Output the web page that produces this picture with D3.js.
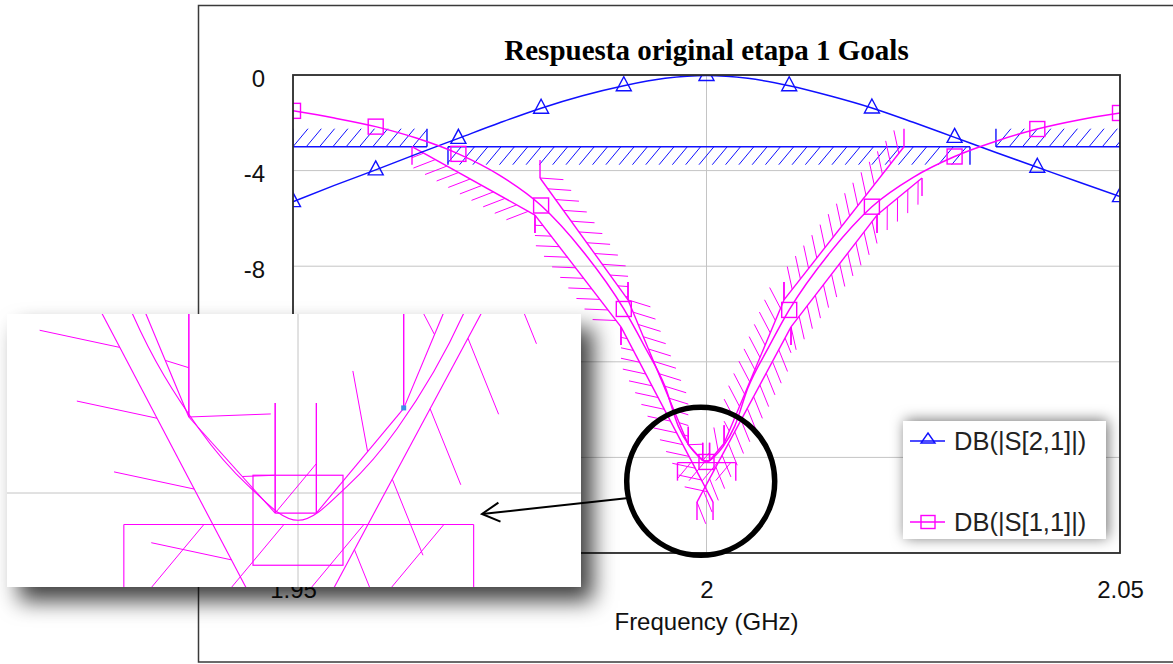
<!DOCTYPE html>
<html><head><meta charset="utf-8">
<script src="https://cdn.jsdelivr.net/npm/d3@7"></script>
<style>
html,body{margin:0;padding:0;background:#fff;}
svg{display:block;}
</style></head><body>
<svg id="chart" width="1173" height="664"></svg>
<script>
// ---------------- data ----------------
const chartTitle = "Respuesta original etapa 1 Goals";
const xLabel = "Frequency (GHz)";
const xTicks = [1.95, 2, 2.05];
const xTickLabels = ["1.95", "2", "2.05"];
const yTicks = [0, -4, -8, -12, -16, -20];
const yTickLabels = ["0", "-4", "-8", "-12", "-16", "-20"];
const seriesNames = ["DB(|S[2,1]|)", "DB(|S[1,1]|)"];

const s21Freq = [1.950,1.955,1.960,1.965,1.970,1.975,1.980,1.985,1.990,1.995,2.000,2.005,2.010,2.015,2.020,2.025,2.030,2.035,2.040,2.045,2.050];
const s21Db   = [-5.30,-4.62,-3.97,-3.30,-2.65,-2.00,-1.39,-0.87,-0.45,-0.14,-0.02,-0.14,-0.45,-0.88,-1.38,-1.98,-2.61,-3.24,-3.86,-4.48,-5.09];

const s11Freq = [1.950,1.955,1.960,1.965,1.970,1.975,1.980,1.985,1.990,1.9925,1.995,1.9966,1.998,1.999,2.000,2.001,2.002,2.0034,2.005,2.0075,2.010,2.015,2.020,2.025,2.030,2.035,2.040,2.045,2.050];
const s11Db   = [-1.50,-1.80,-2.16,-2.65,-3.30,-4.20,-5.46,-7.35,-9.79,-11.35,-13.05,-14.70,-15.55,-15.95,-16.19,-15.95,-15.55,-14.70,-13.10,-11.40,-9.83,-7.40,-5.51,-4.28,-3.41,-2.77,-2.26,-1.88,-1.59];

// goals: [fStart, fEnd, dBStart, dBEnd, hatched side]
const s21Goals = [
  [1.95000, 1.96620, -3.0, -3.0, "above"],
  [1.96874, 2.03186, -3.0, -3.0, "below"],
  [2.03500, 2.05000, -3.0, -3.0, "above"]
];
const s11Goals = [
  [1.96439, 1.97926, -3.00, -5.86, "below"],
  [1.97926, 1.98966, -5.86, -10.54, "below"],
  [1.98966, 2.00079, -10.54, -17.87, "below"],
  [1.97987, 1.99051, -4.31, -9.41, "above"],
  [1.99051, 1.99780, -9.41, -15.47, "above"],
  [1.99780, 1.99954, -15.47, -16.14, "above"],
  [1.99954, 2.00037, -16.14, -16.14, "above"],
  [2.00037, 2.00213, -16.14, -15.41, "above"],
  [2.00213, 2.00937, -15.41, -9.41, "above"],
  [2.00937, 2.02388, -9.41, -3.00, "above"],
  [2.02062, 2.02606, -5.86, -4.31, "below"],
  [2.01022, 2.02062, -10.54, -5.86, "below"],
  [1.99885, 2.01022, -17.87, -10.54, "below"],
  [1.99649, 2.00354, -16.22, -16.22, "below"]
];
const zoomCenter = [2.0, -16];      // data point shown at the inset's reference spot
const circleCenter = [1.9993, -17.0];

// ---------------- layout ----------------
const plot = {left: 293, top: 75, right: 1120, bottom: 553};
const inset = {x: 7, y: 314, w: 574, h: 273, refX: 291, refY: 179, k: 6};
const legendBox = {x: 903, y: 421, w: 203, h: 118};
const BLUE = "#1010ff", MAG = "#ff00ff";
const SANS = "'Liberation Sans', Arial, sans-serif";

const svg = d3.select("#chart");
const x = d3.scaleLinear().domain([1.95, 2.05]).range([plot.left, plot.right]);
const y = d3.scaleLinear().domain([-20, 0]).range([plot.bottom, plot.top]);

const cx0 = x(zoomCenter[0]), cy0 = y(zoomCenter[1]);
const xi = d3.scaleLinear().domain(x.domain())
  .range(x.range().map(v => inset.x + inset.refX + inset.k * (v - cx0)));
const yi = d3.scaleLinear().domain(y.domain())
  .range(y.range().map(v => inset.y + inset.refY + inset.k * (v - cy0)));

const defs = svg.append("defs");
defs.append("clipPath").attr("id", "plotClip").append("rect")
  .attr("x", plot.left).attr("y", plot.top)
  .attr("width", plot.right - plot.left).attr("height", plot.bottom - plot.top);
defs.append("clipPath").attr("id", "insetClip").append("rect")
  .attr("x", inset.x).attr("y", inset.y).attr("width", inset.w).attr("height", inset.h);
const fi = defs.append("filter").attr("id", "insetShadow")
  .attr("x", "-10%").attr("y", "-10%").attr("width", "130%").attr("height", "140%");
fi.append("feDropShadow").attr("dx", 12).attr("dy", 14).attr("stdDeviation", 11)
  .attr("flood-color", "#000").attr("flood-opacity", 0.75);
const fl = defs.append("filter").attr("id", "legShadow")
  .attr("x", "-20%").attr("y", "-30%").attr("width", "140%").attr("height", "160%");
fl.append("feDropShadow").attr("dx", 2).attr("dy", -1).attr("stdDeviation", 7)
  .attr("flood-color", "#000").attr("flood-opacity", 0.55);

svg.append("rect").attr("width", 1173).attr("height", 664).attr("fill", "#fff");
// outer frame
svg.append("rect").attr("x", 198.5).attr("y", 5.5).attr("width", 990).attr("height", 656.5)
  .attr("fill", "none").attr("stroke", "#3a3a3a").attr("stroke-width", 1.5);

// ---------------- scene drawing (shared by main plot and inset) ----------------
function drawGoal(g, sx, sy, goal, color, st) {
  const [f1, f2, d1, d2, side] = goal;
  const p1 = [sx(f1), sy(d1)], p2 = [sx(f2), sy(d2)];
  const dir = side === "above" ? -1 : 1;
  g.append("line").attr("x1", p1[0]).attr("y1", p1[1]).attr("x2", p2[0]).attr("y2", p2[1])
    .attr("stroke", color).attr("stroke-width", st.goalW);
  [p1, p2].forEach(p => g.append("line").attr("x1", p[0]).attr("y1", p[1])
    .attr("x2", p[0]).attr("y2", p[1] + dir * st.cap)
    .attr("stroke", color).attr("stroke-width", st.goalW));
  const th = Math.atan2(p2[1] - p1[1], p2[0] - p1[0]);
  const bx = -dir * 15 * st.hs, by = dir * 18 * st.hs;
  const vx = bx * Math.cos(th) - by * Math.sin(th);
  const vy = bx * Math.sin(th) + by * Math.cos(th);
  const L = Math.hypot(p2[0] - p1[0], p2[1] - p1[1]);
  const ux = (p2[0] - p1[0]) / L, uy = (p2[1] - p1[1]) / L;
  const xmin = Math.min(p1[0], p2[0]), xmax = Math.max(p1[0], p2[0]);
  for (let d = 0; d <= L + 0.01; d += st.sp) {
    const P = [p1[0] + ux * d, p1[1] + uy * d];
    let t0 = 0, t1 = 1;
    if (Math.abs(vx) > 1e-9) {
      const ta = (xmin - P[0]) / vx, tb = (xmax - P[0]) / vx;
      t0 = Math.max(t0, Math.min(ta, tb)); t1 = Math.min(t1, Math.max(ta, tb));
    }
    if (t1 - t0 > 0.01) {
      g.append("line").attr("x1", P[0] + vx * t0).attr("y1", P[1] + vy * t0)
        .attr("x2", P[0] + vx * t1).attr("y2", P[1] + vy * t1)
        .attr("stroke", color).attr("stroke-width", st.hatchW);
    }
  }
}

function isMarker(f) { return Math.abs(f * 100 - Math.round(f * 100)) < 1e-6; }

function drawScene(g, sx, sy, st) {
  const [xa, xb] = [sx(1.95), sx(2.05)], [ya, yb] = [sy(0), sy(-20)];
  // grid
  yTicks.forEach(t => g.append("line").attr("x1", xa).attr("x2", xb)
    .attr("y1", sy(t)).attr("y2", sy(t)).attr("stroke", "#c4c4c4").attr("stroke-width", 1));
  xTicks.forEach(t => g.append("line").attr("y1", ya).attr("y2", yb)
    .attr("x1", sx(t)).attr("x2", sx(t)).attr("stroke", "#c4c4c4").attr("stroke-width", 1));
  // goals
  s21Goals.forEach(gl => drawGoal(g, sx, sy, gl, BLUE, st));
  s11Goals.forEach(gl => drawGoal(g, sx, sy, gl, MAG, st));
  // curves
  const line = d3.line().x(d => sx(d[0])).y(d => sy(d[1])).curve(d3.curveMonotoneX);
  const s21 = s21Freq.map((f, i) => [f, s21Db[i]]);
  const s11 = s11Freq.map((f, i) => [f, s11Db[i]]);
  g.append("path").attr("d", line(s21)).attr("fill", "none").attr("stroke", BLUE).attr("stroke-width", st.curveW);
  g.append("path").attr("d", line(s11)).attr("fill", "none").attr("stroke", MAG).attr("stroke-width", st.curveW);
  // markers
  const m = st.mk;
  s21.filter(d => isMarker(d[0])).forEach(d => {
    g.append("path").attr("transform", `translate(${sx(d[0])},${sy(d[1])}) scale(${m})`)
      .attr("d", "M0,-9L7.5,5L-7.5,5Z").attr("fill", "none").attr("stroke", BLUE)
      .attr("stroke-width", st.markW / m);
  });
  s11.filter(d => isMarker(d[0])).forEach(d => {
    g.append("rect").attr("x", sx(d[0]) - 7.5 * m).attr("y", sy(d[1]) - 7.5 * m)
      .attr("width", 15 * m).attr("height", 15 * m).attr("fill", "none")
      .attr("stroke", MAG).attr("stroke-width", st.markW);
  });
}

// ---------------- main plot ----------------
const main = svg.append("g").attr("clip-path", "url(#plotClip)");
drawScene(main, x, y, {sp: 13.3, hs: 1, cap: 18, goalW: 1.4, hatchW: 1, curveW: 1.5, mk: 1, markW: 1.4});

svg.append("rect").attr("x", plot.left).attr("y", plot.top)
  .attr("width", plot.right - plot.left).attr("height", plot.bottom - plot.top)
  .attr("fill", "none").attr("stroke", "#2b2b2b").attr("stroke-width", 1.8);

// axes
const xAxis = svg.append("g").attr("transform", `translate(0,${plot.bottom})`)
  .call(d3.axisBottom(x).tickValues(xTicks).tickFormat((d, i) => xTickLabels[i]).tickSize(0).tickPadding(28));
xAxis.select(".domain").remove();
xAxis.selectAll("text").attr("font-size", 24).attr("font-family", SANS).attr("fill", "#111");
const yAxis = svg.append("g").attr("transform", `translate(${plot.left},0)`)
  .call(d3.axisLeft(y).tickValues(yTicks).tickFormat((d, i) => yTickLabels[i]).tickSize(0).tickPadding(28));
yAxis.select(".domain").remove();
yAxis.selectAll("text").attr("font-size", 24).attr("font-family", SANS).attr("fill", "#111").attr("dy", "0.46em");

svg.append("text").attr("x", (plot.left + plot.right) / 2).attr("y", 630)
  .attr("text-anchor", "middle").attr("font-size", 24).attr("font-family", SANS).attr("fill", "#111").text(xLabel);
svg.append("text").attr("x", (plot.left + plot.right) / 2).attr("y", 60)
  .attr("text-anchor", "middle").attr("font-size", 29).attr("font-weight", "bold")
  .attr("font-family", "'Liberation Serif', 'Times New Roman', serif").attr("fill", "#000").text(chartTitle);

// legend
const lg = svg.append("g");
lg.append("rect").attr("x", legendBox.x).attr("y", legendBox.y).attr("width", legendBox.w).attr("height", legendBox.h)
  .attr("fill", "#fff").attr("filter", "url(#legShadow)");
const legRows = [legendBox.y + 20, legendBox.y + 101];
[BLUE, MAG].forEach((c, i) => {
  const ly = legRows[i], lx = legendBox.x + 7;
  lg.append("line").attr("x1", lx).attr("x2", lx + 35).attr("y1", ly).attr("y2", ly)
    .attr("stroke", c).attr("stroke-width", 1.5);
  if (i === 0) {
    lg.append("path").attr("transform", `translate(${lx + 18},${ly})`)
      .attr("d", "M0,-8L7,2L-7,2Z").attr("fill", "none").attr("stroke", c).attr("stroke-width", 1.4);
  } else {
    lg.append("rect").attr("x", lx + 11).attr("y", ly - 6.5).attr("width", 14).attr("height", 13)
      .attr("fill", "none").attr("stroke", c).attr("stroke-width", 1.4);
  }
  lg.append("text").attr("x", lx + 44).attr("y", ly + 9).attr("font-size", 25.5)
    .attr("font-family", SANS).attr("fill", "#222").text(seriesNames[i]);
});

// ---------------- inset (magnified view of the same data) ----------------
svg.append("rect").attr("x", inset.x).attr("y", inset.y).attr("width", inset.w).attr("height", inset.h)
  .attr("fill", "#fff").attr("filter", "url(#insetShadow)");
const ins = svg.append("g").attr("clip-path", "url(#insetClip)");
drawScene(ins, xi, yi, {sp: 80, hs: 3.5, cap: 110, goalW: 1.1, hatchW: 1, curveW: 1.1, mk: inset.k, markW: 1.2});
// small selection handle
const hg = s11Goals[7];
ins.append("rect").attr("x", xi(hg[1]) - 2.5).attr("y", yi(hg[3]) - 3).attr("width", 5).attr("height", 5)
  .attr("fill", "#3a8ee6");

// ---------------- annotation: circle + arrow ----------------
const ccx = x(circleCenter[0]), ccy = y(circleCenter[1]), cr = 74;
svg.append("circle").attr("cx", ccx).attr("cy", ccy).attr("r", cr)
  .attr("fill", "none").attr("stroke", "#000").attr("stroke-width", 5.5);
const ang = 167 * Math.PI / 180;
const a0 = [ccx + cr * Math.cos(ang), ccy + cr * Math.sin(ang)];
const tip = [inset.x + 475, inset.y + 200];
svg.append("line").attr("x1", a0[0]).attr("y1", a0[1]).attr("x2", tip[0]).attr("y2", tip[1])
  .attr("stroke", "#000").attr("stroke-width", 2);
const ua = Math.atan2(a0[1] - tip[1], a0[0] - tip[0]);
const arms = [0.5, -0.5].map(da => [tip[0] + 20 * Math.cos(ua + da), tip[1] + 20 * Math.sin(ua + da)]);
svg.append("path").attr("d", `M${arms[0][0]},${arms[0][1]}L${tip[0]},${tip[1]}L${arms[1][0]},${arms[1][1]}`)
  .attr("fill", "none").attr("stroke", "#000").attr("stroke-width", 2);
</script>
</body></html>
